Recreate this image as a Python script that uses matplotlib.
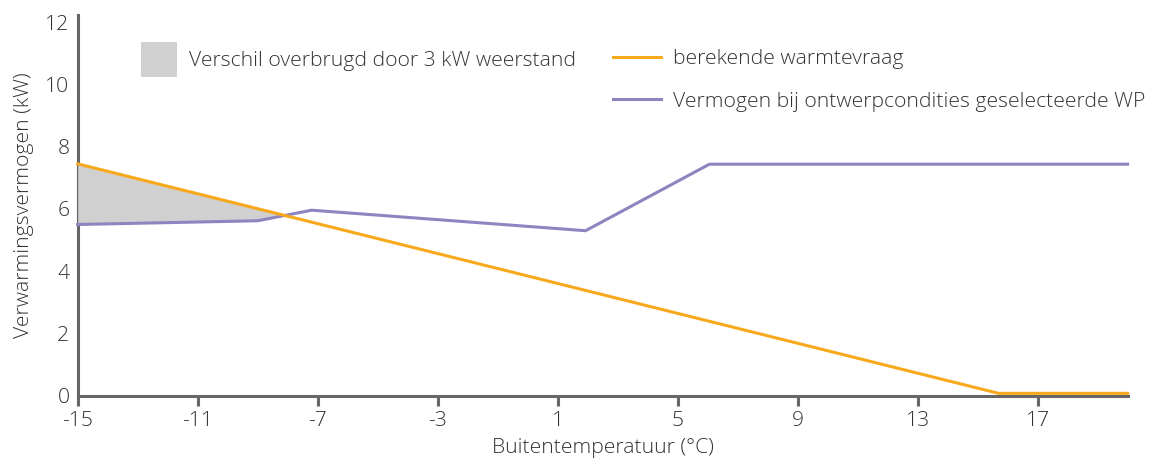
import numpy as np
import matplotlib
matplotlib.use("Agg")
import matplotlib.pyplot as plt
from matplotlib.patches import Patch
from matplotlib.lines import Line2D

plt.rcParams['font.family'] = ['Open Sans', 'DejaVu Sans']

# heat demand (orange) and heat pump capacity (purple), kW vs outdoor temperature
demand_temp = [-15, 15.7, 20]
demand_kw = [7.45, 0.07, 0.07]
hp_temp = [-15, -9, -7.2, 1.93, 6.06, 20]
hp_kw = [5.50, 5.62, 5.96, 5.30, 7.44, 7.44]

x_ticks = [-15, -11, -7, -3, 1, 5, 9, 13, 17]
y_ticks = [0, 2, 4, 6, 8, 10, 12]

orange = "#F7A81B"
purple = "#8D84C0"
grey_fill = "#D0D0D0"
axis_col = "#666666"
text_col = "#333333"
fs = 15.2

fig = plt.figure(figsize=(11.53, 4.61), dpi=100)
ax = fig.add_axes([0.0674, 0.142, 0.9106, 0.825])

# shaded gap where the demand exceeds the heat pump output
grid = np.union1d(demand_temp, hp_temp)
grid = np.union1d(grid, np.linspace(-15, 20, 701))
d_on_grid = np.interp(grid, demand_temp, demand_kw)
h_on_grid = np.interp(grid, hp_temp, hp_kw)
ax.fill_between(grid, h_on_grid, d_on_grid, where=d_on_grid >= h_on_grid,
                interpolate=True, color=grey_fill, linewidth=0, zorder=1)

ax.plot(demand_temp, demand_kw, color=orange, lw=2.2, zorder=3, clip_on=False)
ax.plot(hp_temp, hp_kw, color=purple, lw=2.2, zorder=2, clip_on=False)

ax.set_xlim(-15, 20)
ax.set_ylim(0, 12.23)
ax.set_xticks(x_ticks)
ax.set_yticks(y_ticks)
ax.set_xticklabels([str(t) for t in x_ticks])
ax.tick_params(axis='x', length=7, width=2.2, color=axis_col, labelsize=fs,
               labelcolor=text_col, pad=4, direction='out')
ax.tick_params(axis='y', length=0, labelsize=fs, labelcolor=text_col, pad=6)
for lab in ax.get_xticklabels() + ax.get_yticklabels():
    lab.set_fontweight('light')

for side in ['top', 'right']:
    ax.spines[side].set_visible(False)
for side in ['left', 'bottom']:
    ax.spines[side].set_color(axis_col)
    ax.spines[side].set_linewidth(2.2)
    ax.spines[side].set_zorder(0)

ax.set_xlabel("Buitentemperatuur (°C)", fontsize=fs, color=text_col,
              fontweight='light', labelpad=5)
ax.set_ylabel("Verwarmingsvermogen (kW)", fontsize=fs, color=text_col,
              fontweight='light', labelpad=8)

leg1 = fig.legend(handles=[Patch(facecolor=grey_fill, edgecolor='none')],
                  labels=["Verschil overbrugd door 3 kW weerstand"],
                  loc='upper left', bbox_to_anchor=(0.106, 0.95), frameon=False,
                  handlelength=1.7, handleheight=2.15, handletextpad=0.55,
                  prop={'size': fs, 'weight': 'light'}, labelcolor=text_col)
leg2 = fig.legend(handles=[Line2D([], [], color=orange, lw=2.2),
                           Line2D([], [], color=purple, lw=2.2)],
                  labels=["berekende warmtevraag",
                          "Vermogen bij ontwerpcondities geselecteerde WP"],
                  loc='upper left', bbox_to_anchor=(0.515, 0.934), frameon=False,
                  handlelength=2.3, handletextpad=0.55, labelspacing=1.05,
                  prop={'size': fs, 'weight': 'light'}, labelcolor=text_col)

fig.savefig("out.png", dpi=100)
